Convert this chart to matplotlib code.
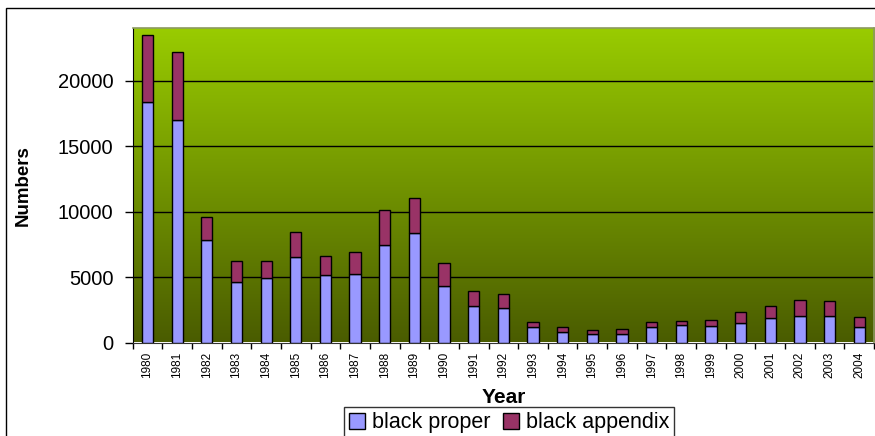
import numpy as np
import matplotlib
matplotlib.use("Agg")
import matplotlib.pyplot as plt
from matplotlib.colors import LinearSegmentedColormap
from matplotlib.patches import Rectangle

plt.rcParams['font.family'] = ['Liberation Sans', 'DejaVu Sans']

years = [str(y) for y in range(1980, 2005)]
black_proper = [18400, 17000, 7800, 4600, 4900, 6500, 5150, 5250, 7450, 8400,
                4300, 2750, 2600, 1200, 800, 680, 620, 1150, 1300, 1250,
                1480, 1900, 2000, 2000, 1150]
black_appendix = [5100, 5200, 1750, 1600, 1300, 1950, 1450, 1700, 2700, 2650,
                  1800, 1200, 1100, 350, 420, 250, 380, 380, 380, 500,
                  820, 880, 1220, 1150, 770]
y_ticks = [0, 5000, 10000, 15000, 20000]

W, H = 875, 436
fig = plt.figure(figsize=(W / 100, H / 100), dpi=100)
fig.patch.set_facecolor('white')

# outer frame of the chart object
fig.patches.append(Rectangle((5.7 / W, -0.1), 1.2, 1 - 8.3 / H + 0.1,
                             transform=fig.transFigure, fill=False,
                             edgecolor='black', linewidth=1.0, zorder=0))

ax = fig.add_axes([132.7 / W, 1 - 342.5 / H, (874 - 132.7) / W, (342.5 - 28.3) / H])

x = np.arange(len(years))
ax.set_xlim(-0.5, len(years) - 0.5)
ax.set_ylim(0, 24000)

# vertical green gradient behind the plot
cmap = LinearSegmentedColormap.from_list('bg', ['#4A5C00', '#99CC00'])
grad = np.linspace(0, 1, 256).reshape(-1, 1)
ax.imshow(grad, cmap=cmap, aspect='auto', origin='lower',
          extent=(-0.5, len(years) - 0.5, 0, 24000), zorder=0)

for v in y_ticks[1:]:
    ax.axhline(v, color='black', linewidth=1.0, zorder=1)

bw = 0.38
ax.bar(x, black_proper, width=bw, color='#9999FF', edgecolor='black',
       linewidth=1.0, zorder=3, label='black proper')
ax.bar(x, black_appendix, width=bw, bottom=black_proper, color='#993366',
       edgecolor='black', linewidth=1.0, zorder=3, label='black appendix')

# spines
for side in ['top', 'right']:
    ax.spines[side].set_color('#8C9A60')
    ax.spines[side].set_linewidth(1.2)
ax.spines['left'].set_color('black')
ax.spines['bottom'].set_color('#333333')

# y axis
ax.set_yticks(y_ticks)
ax.set_yticklabels([str(v) for v in y_ticks], fontsize=14.5)
ax.tick_params(axis='y', direction='out', length=6, width=1, pad=8)

# x axis: tick marks on category boundaries, labels at centres
ax.set_xticks(np.arange(-0.5, len(years), 1.0))
ax.set_xticklabels([])
ax.set_xticks(x, minor=True)
ax.set_xticklabels(years, minor=True, rotation=90, fontsize=8.5)
ax.tick_params(axis='x', which='major', direction='out', length=4, width=1)
ax.tick_params(axis='x', which='minor', length=0, pad=6.5)

ax.set_xlabel('Year', fontsize=15, fontweight='bold')
ax.xaxis.set_label_coords(0.5, (342.5 - 397) / 314.2)
ax.xaxis.label.set_va('center')
ax.set_ylabel('Numbers', fontsize=13.5, fontweight='bold')
ax.yaxis.set_label_coords((23 - 132.7) / 741.3, 0.5)
ax.yaxis.label.set_va('center')

leg = fig.legend(loc='upper center', bbox_to_anchor=(509 / W, 1 - 407 / H),
                 ncol=2, fontsize=15.5, frameon=True, fancybox=False,
                 edgecolor='black', handlelength=0.75, handleheight=0.75,
                 handletextpad=0.3, columnspacing=0.6, borderpad=0.25,
                 borderaxespad=0)
leg.get_frame().set_linewidth(1.0)

fig.savefig('out.png', dpi=100)
